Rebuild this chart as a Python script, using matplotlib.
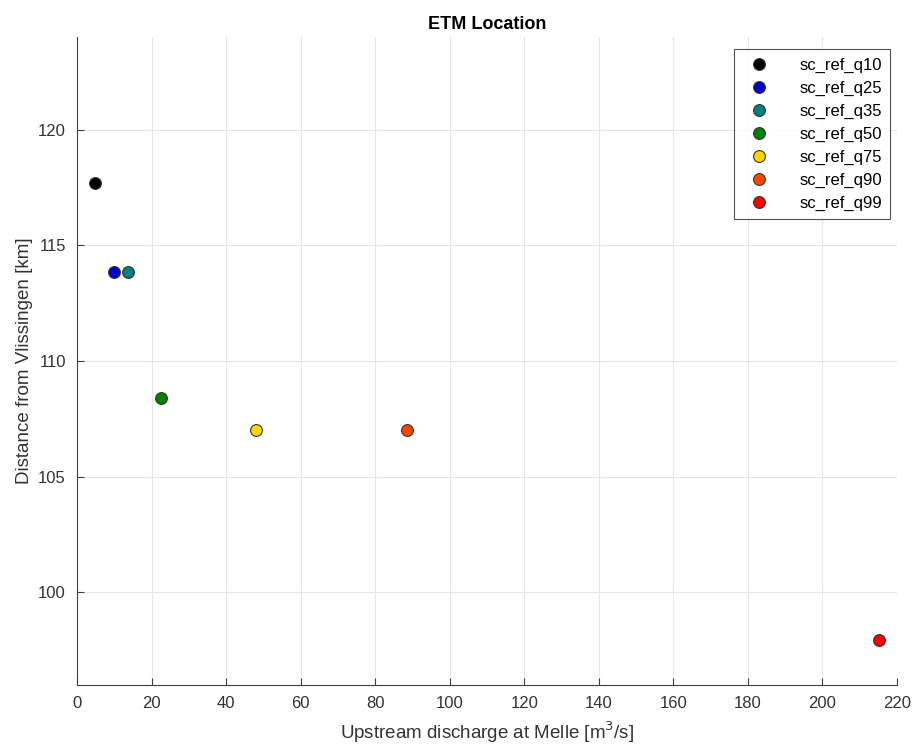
import matplotlib.pyplot as plt

plt.rcParams['font.family'] = ['Liberation Sans', 'DejaVu Sans']

names = ['sc_ref_q10', 'sc_ref_q25', 'sc_ref_q35', 'sc_ref_q50',
         'sc_ref_q75', 'sc_ref_q90', 'sc_ref_q99']
discharge = [4.8, 9.9, 13.7, 22.5, 48.0, 88.5, 215.2]
distance = [117.7, 113.85, 113.85, 108.4, 107.0, 107.0, 97.95]
colors = ['#000000', '#0000cc', '#008080', '#008000', '#ffd700', '#ff4500', '#ff0000']

fig = plt.figure(figsize=(9.15, 7.47), dpi=100)
ax = fig.add_axes([0.0842, 0.083, 0.8961, 0.8675])

for n, x, y, c in zip(names, discharge, distance, colors):
    ax.plot(x, y, 'o', color=c, markersize=8.5, markeredgecolor='#333333',
            markeredgewidth=0.8, label=n, linestyle='none')

ax.set_xlim(0, 220)
ax.set_ylim(96, 124)
ax.set_xticks(range(0, 221, 20))
ax.set_yticks([100, 105, 110, 115, 120])
ax.grid(True, color='#e6e6e6', linewidth=0.8)
ax.set_axisbelow(True)
for s in ['top', 'right']:
    ax.spines[s].set_visible(False)
for s in ['left', 'bottom']:
    ax.spines[s].set_color('#404040')
ax.tick_params(direction='in', colors='#404040', labelsize=12, labelcolor='#333333',
               length=5, pad=8)

ax.set_xlabel('Upstream discharge at Melle [m$^3$/s]', fontsize=13.5, color='#333333', labelpad=6)
ax.set_ylabel('Distance from Vlissingen [km]', fontsize=13.5, color='#333333', labelpad=4)
ax.set_title('ETM Location', fontsize=13, fontweight='bold')

leg = ax.legend(loc='upper right', bbox_to_anchor=(0.992, 0.981), fontsize=12,
                frameon=True, fancybox=False, edgecolor='#262626',
                handletextpad=1.4, borderpad=0.5, labelspacing=0.47,
                borderaxespad=0)
leg.get_frame().set_linewidth(0.8)

fig.savefig('out.png', dpi=100)
